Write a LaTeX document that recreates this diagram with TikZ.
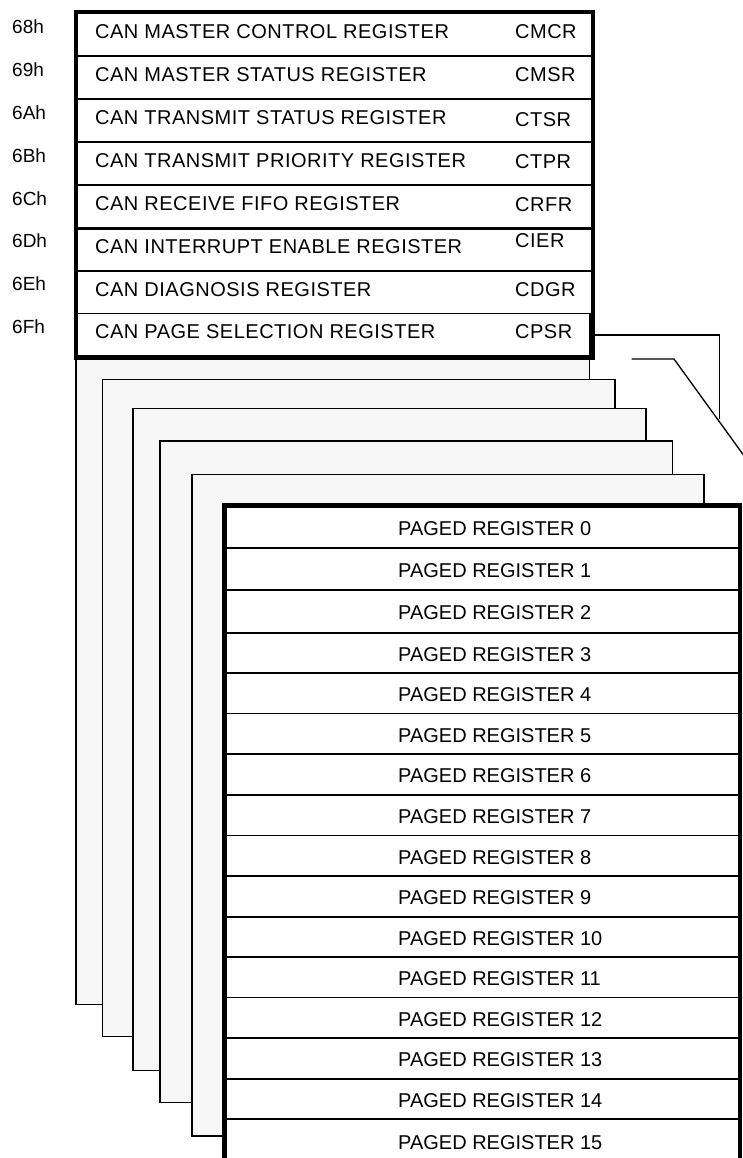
\documentclass[tikz,border=0pt]{standalone}
\usepackage{fontspec}
\newfontfamily\topfont{Liberation Sans}[LetterSpace=2.5]
\newfontfamily\pagedfont{Liberation Sans}
\usetikzlibrary{positioning}
\definecolor{ink}{HTML}{000000}
\definecolor{sheetfill}{HTML}{F6F6F6}
\tikzset{
  sheet/.style   = {draw=ink, fill=sheetfill, line width=1.3pt},
  toprow/.style  = {draw=ink, fill=white, line width=1.9pt, anchor=north west, inner sep=0pt,
                    minimum width=515pt, minimum height=42.94pt},
  pgrow/.style   = {draw=ink, fill=white, line width=1.9pt, anchor=north west, inner sep=0pt,
                    minimum width=513.5pt},
  toptxt/.style  = {font=\topfont\fontsize{20}{22}\selectfont, text=ink, inner sep=0pt, anchor=west},
  addrtxt/.style = {font=\pagedfont\fontsize{19}{21}\selectfont, text=ink, inner sep=0pt, anchor=west},
  pgtxt/.style   = {font=\pagedfont\fontsize{20}{22}\selectfont, text=ink, inner sep=0pt, anchor=west},
  outline/.style = {draw=ink, line width=4.3pt},
  callout/.style = {draw=ink, line width=1.3pt},
}

\begin{document}
\begin{tikzpicture}[x=1pt, y=-1pt]
  \useasboundingbox (0,0) rectangle (742,1158);

  % pages stacked behind
  \foreach \xa/\ya/\xb/\yb in {76/343/589.3/1004.7, 102.7/379.3/615/1036.7, 133/408.7/646/1070.7,
                               160/441/672.3/1102.7, 192/474.7/704/1136}
    \draw[sheet] (\xa,\ya) rectangle (\xb,\yb);

  % fixed registers 68h..6Fh
  \foreach \key/\hex/\desc/\abbr/\dy [count=\i from 0] in {
      cmcr/68h/CAN MASTER CONTROL REGISTER/CMCR/0,
      cmsr/69h/CAN MASTER STATUS REGISTER/CMSR/0,
      ctsr/6Ah/CAN TRANSMIT STATUS REGISTER/CTSR/2,
      ctpr/6Bh/CAN TRANSMIT PRIORITY REGISTER/CTPR/1,
      crfr/6Ch/CAN RECEIVE FIFO REGISTER/CRFR/1,
      cier/6Dh/CAN INTERRUPT ENABLE REGISTER/CIER/-6,
      cdgr/6Eh/CAN DIAGNOSIS REGISTER/CDGR/0,
      cpsr/6Fh/CAN PAGE SELECTION REGISTER/CPSR/0}{
    \node[toprow] (\key) at (76,{12+42.94*\i}) {};
    \node[toptxt] (\key-name) at (95,{31.5+42.94*\i}) {\desc};
    \node[toptxt] (\key-abbr) at (515,{31.5+42.94*\i+\dy}) {\abbr};
    \node[addrtxt] (\key-addr) at (12,{26.5+42.94*\i}) {\hex};
  }
  \draw[outline] (cmcr.north west) rectangle (cpsr.south east);
  \draw[ink, line width=3pt] (crfr.south west) -- (crfr.south east);
  \draw[ink, line width=5.6pt] ([xshift=-1.5pt]cpsr.north east) -- ([xshift=-1.5pt]cpsr.south east);

  % front page: paged registers
  \foreach \ya/\yb [count=\i from 0] in {505.5/546.7, 546.7/589, 589/631.7, 631.7/672, 672/712.5,
      712.5/753, 753/794, 794/834.5, 834.5/875, 875/916, 916/956, 956/996.5, 996.5/1037,
      1037/1077.7, 1077.7/1117.7, 1117.7/1162}{
    \node[pgrow, minimum height={(\yb-\ya)*1pt}] (pr\i) at (224.5,\ya) {};
    \node[pgtxt] (pr\i-name) at (398,{(\ya+\yb)/2+2.5}) {PAGED REGISTER \i};
  }
  \draw[outline] (pr15.south west) -- (pr0.north west) -- (pr0.north east) -- (pr15.south east);

  % page selection pointers
  \coordinate (selA) at (719.7,419.3);
  \draw[callout] (cpsr.east) -| (selA);
  \coordinate (selB0) at (631.7,359);
  \coordinate (selB1) at (674,359);
  \coordinate (selB2) at (760,477.9);
  \draw[callout] (selB0) -- (selB1) -- (selB2);
\end{tikzpicture}
\end{document}
